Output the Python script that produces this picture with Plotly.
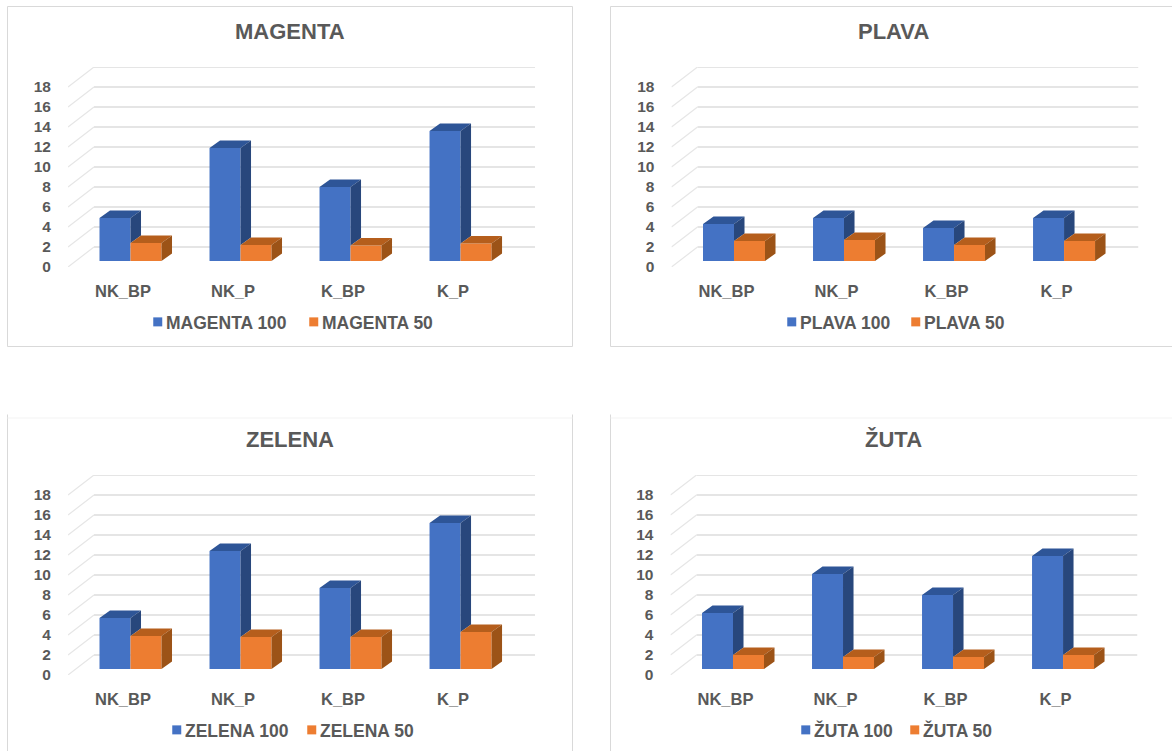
import plotly.graph_objects as go

CATEGORIES = ["NK_BP", "NK_P", "K_BP", "K_P"]
TICKS = [0, 2, 4, 6, 8, 10, 12, 14, 16, 18]

PANEL_TITLES = ["MAGENTA", "PLAVA", "ZELENA", "ŽUTA"]
NAMES_100 = ["MAGENTA 100", "PLAVA 100", "ZELENA 100", "ŽUTA 100"]
NAMES_50 = ["MAGENTA 50", "PLAVA 50", "ZELENA 50", "ŽUTA 50"]

MAGENTA_100 = [4.3, 11.3, 7.4, 13.0]
MAGENTA_50 = [1.8, 1.6, 1.55, 1.75]
PLAVA_100 = [3.7, 4.3, 3.3, 4.3]
PLAVA_50 = [2.0, 2.1, 1.6, 2.0]
ZELENA_100 = [5.1, 11.8, 8.1, 14.6]
ZELENA_50 = [3.3, 3.2, 3.2, 3.7]
ZUTA_100 = [5.6, 9.5, 7.4, 11.3]
ZUTA_50 = [1.4, 1.2, 1.2, 1.4]

SERIES_100 = [MAGENTA_100, PLAVA_100, ZELENA_100, ZUTA_100]
SERIES_50 = [MAGENTA_50, PLAVA_50, ZELENA_50, ZUTA_50]

W, H = 1172, 751
# panel pixel offsets: (dx, dy), frames, legend layout
OFFS = [(0, 0), (603.5, 0), (0, 408), (602.5, 408)]
FRAMES = [(7.5, 6.5, 572.5, 346.5), (610.5, 6.5, 1180, 346.5), (7.5, 414.5, 572.5, 760), (610.5, 414.5, 1180, 760)]
TITLE_X = [290, 893, 290, 893]
LEG_TEXT_X = [166, 800, 185, 814]
LEG_STEP = [156, 124, 135, 109]

XR = (-0.5, 3.745)
YR = (0, 20)
BACK_X, BACK_Y = 26 / 110, 2.0     # wall depth
BAR_B = 0.6                        # front-face floor height of the bars
BAR_X, BAR_Y = 10.5 / 110, 0.75    # bar depth
BAR_W, BAR_SHIFT = 31 / 110, 7.5 / 110

BLUE, BLUE_SIDE, BLUE_TOP = "#4472C4", "#28477C", "#2E5597"
ORANGE, ORANGE_SIDE, ORANGE_TOP = "#ED7D31", "#9C5317", "#B55E1C"
GRID, GRID_D = "#DDDDDD", "#E6E6E6"
FRAME, FRAME_FAINT = "#D9D9D9", "#F3F3F3"
TEXT = "#595959"
FONT = "Liberation Sans"

fig = go.Figure()
shapes, annotations = [], []


def poly(xs, ys, color, ax):
    fig.add_trace(go.Scatter(x=xs, y=ys, mode="lines", fill="toself", fillcolor=color,
                             line=dict(width=0), hoverinfo="skip", showlegend=False,
                             xaxis=ax[0], yaxis=ax[1]))


def frame_line(x0, y0, x1, y1, color):
    shapes.append(dict(type="line", xref="paper", yref="paper", layer="below",
                       x0=x0 / W, x1=x1 / W, y0=1 - y0 / H, y1=1 - y1 / H,
                       line=dict(color=color, width=1)))


for p in range(4):
    ox, oy = OFFS[p]
    sfx = "" if p == 0 else str(p + 1)
    ax = ("x" + sfx, "y" + sfx)
    legend_id = "legend" + sfx
    x_left, x_right = 68 + ox, 535 + ox
    y_top, y_bot = 67 + oy, 267 + oy
    v100, v50 = SERIES_100[p], SERIES_50[p]
    pos = list(range(len(CATEGORIES)))

    fig.add_trace(go.Bar(x=pos, y=v100, base=BAR_B, width=BAR_W, offset=BAR_SHIFT - BAR_W,
                         marker=dict(color=BLUE, line=dict(width=0)), name=NAMES_100[p],
                         xaxis=ax[0], yaxis=ax[1], legend=legend_id))
    fig.add_trace(go.Bar(x=pos, y=v50, base=BAR_B, width=BAR_W, offset=BAR_SHIFT,
                         marker=dict(color=ORANGE, line=dict(width=0)), name=NAMES_50[p],
                         xaxis=ax[0], yaxis=ax[1], legend=legend_id))

    # blue top/side, then orange top/side (oblique projection of each value)
    bt_x, bt_y, bs_x, bs_y, ot_x, ot_y, os_x, os_y = [], [], [], [], [], [], [], []
    for i in pos:
        x0, x1, x2 = i + BAR_SHIFT - BAR_W, i + BAR_SHIFT, i + BAR_SHIFT + BAR_W
        a, b = v100[i] + BAR_B, v50[i] + BAR_B
        bt_x += [x0, x1, x1 + BAR_X, x0 + BAR_X, x0, None]
        bt_y += [a, a, a + BAR_Y, a + BAR_Y, a, None]
        bs_x += [x1, x1 + BAR_X, x1 + BAR_X, x1, x1, None]
        bs_y += [a, a + BAR_Y, b + BAR_Y, b, a, None]
        ot_x += [x1, x2, x2 + BAR_X, x1 + BAR_X, x1, None]
        ot_y += [b, b, b + BAR_Y, b + BAR_Y, b, None]
        os_x += [x2, x2 + BAR_X, x2 + BAR_X, x2, x2, None]
        os_y += [b, b + BAR_Y, BAR_B + BAR_Y, BAR_B, b, None]
    poly(bt_x, bt_y, BLUE_TOP, ax)
    poly(bs_x, bs_y, BLUE_SIDE, ax)
    poly(ot_x, ot_y, ORANGE_TOP, ax)
    poly(os_x, os_y, ORANGE_SIDE, ax)

    # wall gridlines and floor diagonals, beneath the traces
    back = " ".join(f"M{XR[0] + BACK_X},{t + BACK_Y} L{XR[1]},{t + BACK_Y}" for t in TICKS)
    diag = " ".join(f"M{XR[0]},{t} L{XR[0] + BACK_X},{t + BACK_Y}" for t in TICKS)
    shapes.append(dict(type="path", path=back, xref=ax[0], yref=ax[1], layer="below",
                       line=dict(color=GRID, width=1.6)))
    shapes.append(dict(type="path", path=diag, xref=ax[0], yref=ax[1], layer="below",
                       line=dict(color=GRID_D, width=1.2)))

    # frame: the lower two panels have only a very faint top edge, set slightly lower
    fx0, fy0, fx1, fy1 = FRAMES[p]
    frame_line(fx0, fy0, fx0, fy1, FRAME)
    frame_line(fx1, fy0, fx1, fy1, FRAME)
    if p < 2:
        frame_line(fx0, fy0, fx1, fy0, FRAME)
        frame_line(fx0, fy1, fx1, fy1, FRAME)
    else:
        frame_line(fx0, fy0 + 3.5, fx1, fy0 + 3.5, FRAME_FAINT)

    annotations.append(dict(text=PANEL_TITLES[p], xref="paper", yref="paper", showarrow=False,
                            x=TITLE_X[p] / W, y=1 - (31.5 + oy) / H, xanchor="center", yanchor="middle",
                            font=dict(family=FONT, size=22, color=TEXT, weight="bold")))

    layout_axes = {
        "xaxis" + sfx: dict(domain=[x_left / W, x_right / W], range=list(XR), anchor=ax[1],
                            tickmode="array", tickvals=pos, ticktext=CATEGORIES,
                            showgrid=False, zeroline=False, showline=False,
                            ticks="outside", ticklen=9, tickcolor="rgba(0,0,0,0)",
                            tickfont=dict(family=FONT, size=16.5, color=TEXT, weight="bold")),
        "yaxis" + sfx: dict(domain=[1 - y_bot / H, 1 - y_top / H], range=list(YR), anchor=ax[0],
                            tickmode="array", tickvals=TICKS,
                            showgrid=False, zeroline=False, showline=False,
                            ticks="outside", ticklen=13, tickcolor="rgba(0,0,0,0)",
                            tickfont=dict(family=FONT, size=15.5, color=TEXT, weight="bold")),
        legend_id: dict(orientation="h", x=(LEG_TEXT_X[p] - 40) / W, y=1 - (322 + oy) / H,
                        xanchor="left", yanchor="middle", bgcolor="rgba(0,0,0,0)",
                        entrywidth=LEG_STEP[p] - 45, entrywidthmode="pixels",
                        font=dict(family=FONT, size=17.5, color=TEXT, weight="bold")),
    }
    fig.update_layout(**layout_axes)

fig.update_layout(width=W, height=H, margin=dict(l=0, r=0, t=0, b=0, autoexpand=False), autosize=False,
                  paper_bgcolor="white", plot_bgcolor="rgba(0,0,0,0)", barmode="overlay",
                  shapes=shapes, annotations=annotations)

POST = """
document.body.style.margin='0';
document.documentElement.style.overflow='hidden';
document.querySelectorAll('.legendsymbols').forEach(function(g){
  g.setAttribute('transform','translate(16.75,0) scale(0.75)');
});
"""
fig.write_html("out.html", post_script=POST, config={"displayModeBar": False})
